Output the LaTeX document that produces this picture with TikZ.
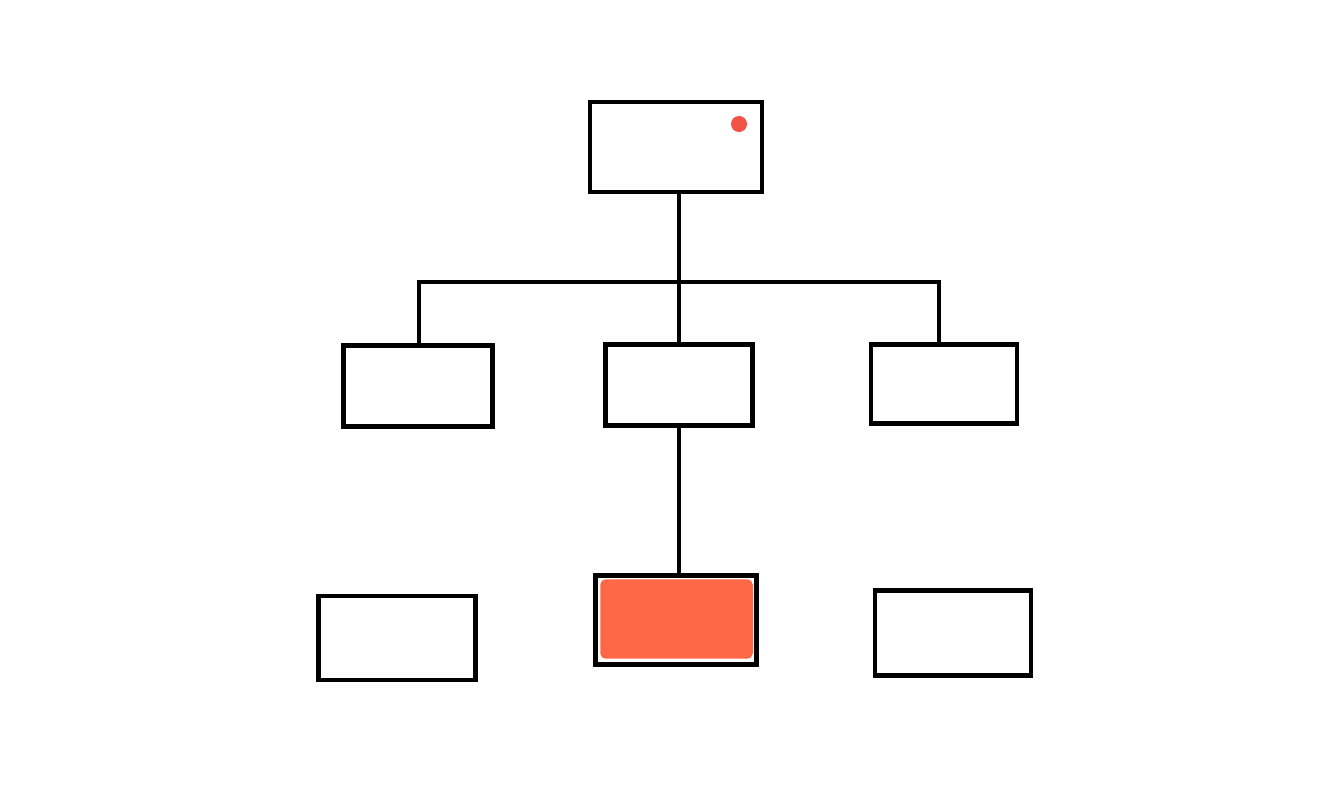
\documentclass[tikz,border=0pt]{standalone}
\usetikzlibrary{calc}
\definecolor{accent}{HTML}{FF6847}
\definecolor{dotred}{HTML}{F05545}
\begin{document}
\begin{tikzpicture}[x=0.01cm,y=-0.01cm,
  box/.style={draw=black,line width=1.25pt,rectangle,inner sep=0pt,fill=white},
  conn/.style={draw=black,line width=1pt}]
\useasboundingbox[fill=white] (0,0) rectangle (1333,800);
\node[box,minimum width=1.72cm,minimum height=0.90cm] (top) at (676,147) {};
\node[box,minimum width=1.49cm,minimum height=0.81cm] (midL) at (418,386) {};
\node[box,minimum width=1.47cm,minimum height=0.81cm] (midM) at (679,385) {};
\node[box,minimum width=1.46cm,minimum height=0.79cm] (midR) at (944,384) {};
\node[box,minimum width=1.57cm,minimum height=0.84cm] (botL) at (397,638) {};
\node[box,minimum width=1.61cm,minimum height=0.89cm] (botM) at (676,620) {};
\node[box,minimum width=1.56cm,minimum height=0.85cm] (botR) at (953,633) {};
\fill[accent,rounded corners=1.5pt] ($(botM.north west)+(7,6)$) rectangle ($(botM.south east)+(-6,-8)$);
\fill[dotred] (739,124) circle (0.08cm);
\coordinate (bar) at (679,282);
\draw[conn] (top.south -| midM.north) -- (midM.north);
\draw[conn] ($(midL.north)+(1,0)$) |- (bar) -| ($(midR.north)+(-5,0)$);
\draw[conn] (midM.south) -- (botM.north -| midM.south);
\end{tikzpicture}
\end{document}
